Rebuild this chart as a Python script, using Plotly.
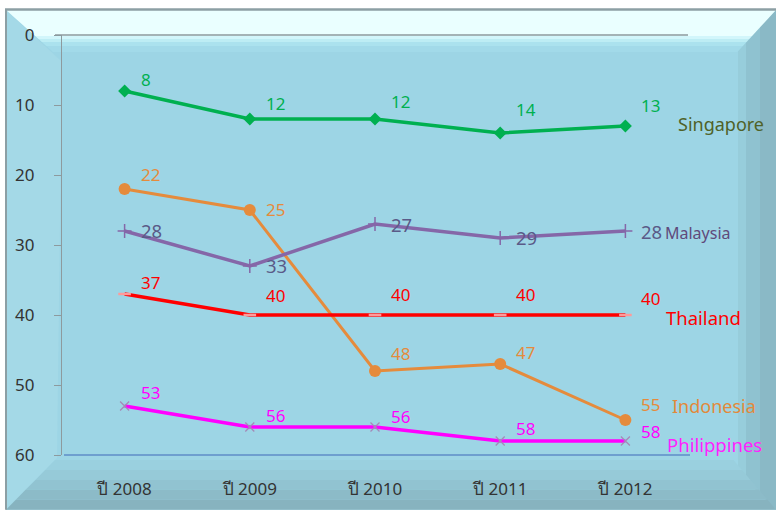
import plotly.graph_objects as go

years = ["ปี 2008", "ปี 2009", "ปี 2010", "ปี 2011", "ปี 2012"]
singapore = [8, 12, 12, 14, 13]
malaysia = [28, 33, 27, 29, 28]
thailand = [37, 40, 40, 40, 40]
indonesia = [22, 25, 48, 47, 55]
philippines = [53, 56, 56, 58, 58]
y_ticks = [0, 10, 20, 30, 40, 50, 60]

W, H = 776, 512
L, R, T, B = 62, 688, 35, 457
FONT = "Noto Sans, Tahoma, DejaVu Sans, sans-serif"


def px(x):
    return (x - L) / (R - L)


def py(y):
    return (B - y) / (B - T)


def poly(points, color):
    path = "M " + " L ".join(f"{px(x):.5f},{py(y):.5f}" for x, y in points) + " Z"
    return dict(type="path", xref="paper", yref="paper", path=path,
                fillcolor=color, layer="below", line=dict(width=0))


shapes = []
shapes.append(poly([(6, 10), (776, 10), (776, 512), (6, 512)], "#9dd5e5"))
shapes.append(poly([(6, 10), (62, 62), (57, 460), (6, 512)], "#a4d9e7"))
for x0, c in [(738, "#97cddb"), (746, "#8fc2d0"), (760, "#8ab9c6")]:
    d = 776 - x0
    shapes.append(poly([(776, 10), (x0, 10 + d), (x0, 512 - d), (776, 512)], c))


def top_band(y0, y1, c):
    lx = lambda y: 6 + (y - 10) * 1.12
    rx = lambda y: 776 - (y - 10) * 0.92
    return poly([(lx(y0), y0), (rx(y0), y0), (rx(y1), y1), (lx(y1), y1)], c)


for y0, y1, c in [(10, 36, "#eaffff"), (36, 39, "#d2f6fb"), (39, 42, "#bdedf4"),
                  (42, 46, "#abe2ee"), (46, 52, "#a2dae9")]:
    shapes.append(top_band(y0, y1, c))


def bot_band(y0, y1, c):
    lx = lambda y: 6 + (512 - y) * 0.98
    rx = lambda y: 776 - (512 - y) * 0.85
    return poly([(lx(y0), y0), (rx(y0), y0), (rx(y1), y1), (lx(y1), y1)], c)


for y0, y1, c in [(462, 472, "#9ad0df"), (472, 482, "#96cad8"), (482, 492, "#91c3d1"),
                  (492, 502, "#8cbbc8"), (502, 512, "#87b3bf")]:
    shapes.append(bot_band(y0, y1, c))

shapes.append(dict(type="line", xref="paper", yref="paper", x0=px(5), x1=px(776),
                   y0=py(9.5), y1=py(9.5), line=dict(color="#8c9fa4", width=2.5), layer="below"))
shapes.append(dict(type="line", xref="paper", yref="paper", x0=px(6), x1=px(6),
                   y0=py(9), y1=py(512), line=dict(color="#8c9fa4", width=2), layer="below"))
shapes.append(dict(type="line", xref="paper", yref="paper", x0=px(55), x1=px(688),
                   y0=1, y1=1, line=dict(color="#8d9a9e", width=1.3)))
shapes.append(dict(type="line", xref="paper", yref="paper", x0=px(64), x1=px(690),
                   y0=0, y1=0, line=dict(color="#6e9fcf", width=1.8)))

# (name, values, line colour, label colour, marker, label size, label vertical shifts in px)
series = [
    ("Singapore", singapore, "#00b050", "#00b050",
     dict(symbol="diamond", size=10, color="#00b050"), 17, [12, 16, 18, 24, 21]),
    ("Indonesia", indonesia, "#e58b3c", "#e58b3c",
     dict(symbol="circle", size=12, color="#e58b3c"), 17, [15, 1, 18, 12, 16]),
    ("Malaysia", malaysia, "#8567a8", "#5a5a88",
     dict(symbol="cross-thin-open", size=10, color="#8567a8", line=dict(color="#8567a8", width=1.5)),
     18.5, [1, 1, 0, 1, 0]),
    ("Thailand", thailand, "#ff0000", "#ff0000",
     dict(symbol="line-ew-open", size=9, color="#ff9a9a", line=dict(color="#ff9a9a", width=2.5)),
     17, [12, 20, 21, 21, 17]),
    ("Philippines", philippines, "#ff00ff", "#ff00ff",
     dict(symbol="x-thin-open", size=9, color="#a48ab8", line=dict(color="#a48ab8", width=1.3)),
     17, [14, 12, 11, 13, 10]),
]

fig = go.Figure()
annotations = []
for name, vals, lc, tc, mk, ts, shifts in series:
    fig.add_trace(go.Scatter(
        x=years, y=vals, name=name, mode="lines+markers",
        line=dict(color=lc, width=3 if name == "Indonesia" else 3.5),
        marker=mk, cliponaxis=False, showlegend=False))
    for xv, yv, s in zip(years, vals, shifts):
        annotations.append(dict(text=str(yv), x=xv, y=yv, xref="x", yref="y",
                                xanchor="left", yanchor="middle", xshift=14, yshift=s,
                                showarrow=False, font=dict(family=FONT, size=ts, color=tc)))

names = [
    ("Singapore", 676, 124, "#4f6228", 18),
    ("Malaysia", 663, 234, "#604a7b", 16),
    ("Thailand", 664, 319, "#ff0000", 18.5),
    ("Indonesia", 670, 408, "#e3893a", 18),
    ("Philippines", 665, 446, "#ff22ff", 18.5),
]
annotations += [dict(text=n, xref="paper", yref="paper", x=px(x), y=py(y), xanchor="left",
                     yanchor="middle", showarrow=False, font=dict(family=FONT, size=s, color=c))
                for n, x, y, c, s in names]

fig.update_layout(
    width=W, height=H,
    margin=dict(l=L, r=W - R, t=T, b=H - B),
    paper_bgcolor="white", plot_bgcolor="rgba(0,0,0,0)",
    shapes=shapes, annotations=annotations,
    font=dict(family=FONT, size=17, color="#333333"),
    xaxis=dict(range=[-0.5, 4.5], showgrid=False, zeroline=False, showline=False,
               ticks="", tickfont=dict(size=17, color="#333333"), ticklabelstandoff=22),
    yaxis=dict(range=[60, 0], tickvals=y_ticks, showgrid=False, zeroline=False,
               showline=True, linecolor="#8d9a9e", linewidth=1.3, ticks="outside",
               ticklen=7, tickcolor="#8d9a9e", tickwidth=1.3,
               tickfont=dict(size=17, color="#333333"), ticklabelstandoff=16),
)

fig.write_html("out.html", config={"displayModeBar": False},
               post_script="document.body.style.margin='0';")
